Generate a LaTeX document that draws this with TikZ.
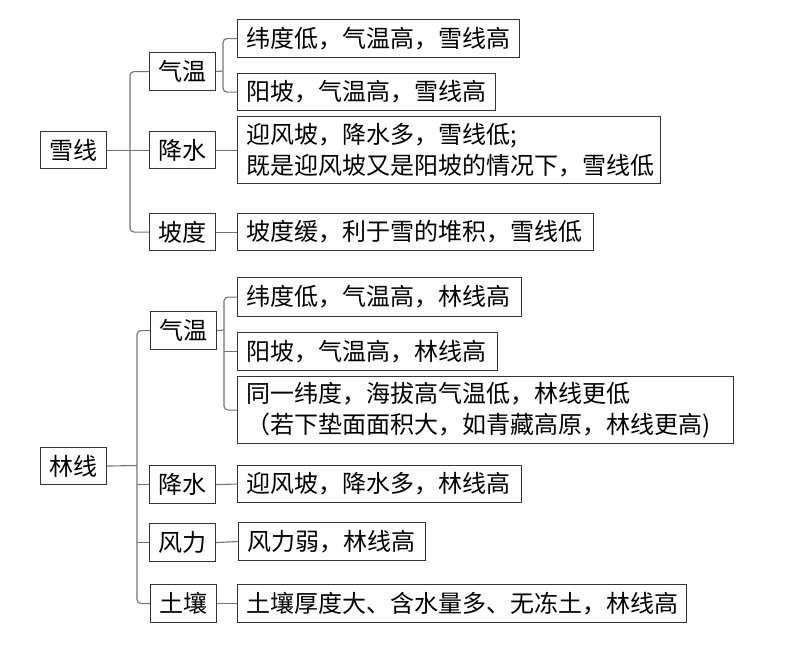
\documentclass[tikz,border=0pt]{standalone}
\usepackage{fontspec}
\setmainfont{Noto Sans CJK SC}
\begin{document}
\begin{tikzpicture}[x=1pt,y=-1pt,
  every node/.style={font=\fontsize{24pt}{31pt}\selectfont},
  cat/.style={draw=black!80, line width=1.1pt, anchor=north west, inner sep=0pt, align=center},
  leaf/.style={draw=black!80, line width=1.1pt, anchor=north west, inner xsep=9pt, inner ysep=0pt, align=left},
  conn/.style={draw=black!55, line width=1.1pt, rounded corners=4pt}]
\useasboundingbox (0,0) rectangle (785,648);
% ---- snow line ----
\node[cat, minimum width=66pt, minimum height=37pt] (S) at (40,131) {雪线};
\node[cat, minimum width=66pt, minimum height=38pt] (S1) at (149,52) {气温};
\node[cat, minimum width=66pt, minimum height=37pt] (S2) at (149,131) {降水};
\node[cat, minimum width=66pt, minimum height=37pt] (S3) at (149,213) {坡度};
\node[leaf, text width=264pt, minimum height=38pt] (S1a) at (237,19) {纬度低，气温高，雪线高};
\node[leaf, text width=240pt, minimum height=37pt] (S1b) at (237,73) {阳坡，气温高，雪线高};
\node[leaf, text width=405pt, minimum height=67pt] (S2a) at (237,116) {迎风坡，降水多，雪线低;\\既是迎风坡又是阳坡的情况下，雪线低};
\node[leaf, text width=338pt, minimum height=37pt] (S3a) at (237,213) {坡度缓，利于雪的堆积，雪线低};
\coordinate (sj) at (130,149.5);
\coordinate (s1j) at (223,71);
\draw[conn] (S1.west) -| (sj) |- (S3.west);
\draw[conn] (S.east) -- (S2.west);
\draw[conn] (S1a.west) -| (s1j) |- (S1b.west);
\draw[conn] (S1.east) -- (s1j);
\draw[conn] (S2.east) -- (S2a.west);
\draw[conn] (S3.east) -- (S3a.west);
% ---- tree line ----
\node[cat, minimum width=66pt, minimum height=37pt] (L) at (40,447) {林线};
\node[cat, minimum width=66pt, minimum height=38pt] (L1) at (150,311) {气温};
\node[cat, minimum width=66pt, minimum height=38pt] (L2) at (149,465) {降水};
\node[cat, minimum width=66pt, minimum height=38pt] (L3) at (149,523) {风力};
\node[cat, minimum width=66pt, minimum height=38pt] (L4) at (150,584) {土壤};
\node[leaf, text width=266pt, minimum height=39pt] (L1a) at (237,277) {纬度低，气温高，林线高};
\node[leaf, text width=242pt, minimum height=38pt] (L1b) at (237,332) {阳坡，气温高，林线高};
\node[leaf, text width=478pt, minimum height=67pt] (L1c) at (237,376) {同一纬度，海拔高气温低，林线更低\\（若下垫面面积大，如青藏高原，林线更高)};
\node[leaf, text width=266pt, minimum height=37pt] (L2a) at (237,465) {迎风坡，降水多，林线高};
\node[leaf, text width=169pt, minimum height=38pt] (L3a) at (238,522) {风力弱，林线高};
\node[leaf, text width=431pt, minimum height=38pt] (L4a) at (237,584) {土壤厚度大、含水量多、无冻土，林线高};
\coordinate (lj) at (137,465.5);
\coordinate (l1j) at (224,330);
\draw[conn] (L1.west) -| (lj) |- (L4.west);
\draw[conn] (L.east) -- (lj);
\draw[conn] (lj |- L2.west) -- (L2.west);
\draw[conn] (lj |- L3.west) -- (L3.west);
\draw[conn] (L1a.west) -| (l1j) |- (L1c.west);
\draw[conn] (L1.east) -- (l1j);
\draw[conn] (l1j |- L1b.west) -- (L1b.west);
\draw[conn] (L2.east) -- (L2a.west);
\draw[conn] (L3.east) -- (L3a.west);
\draw[conn] (L4.east) -- (L4a.west);
\end{tikzpicture}
\end{document}
